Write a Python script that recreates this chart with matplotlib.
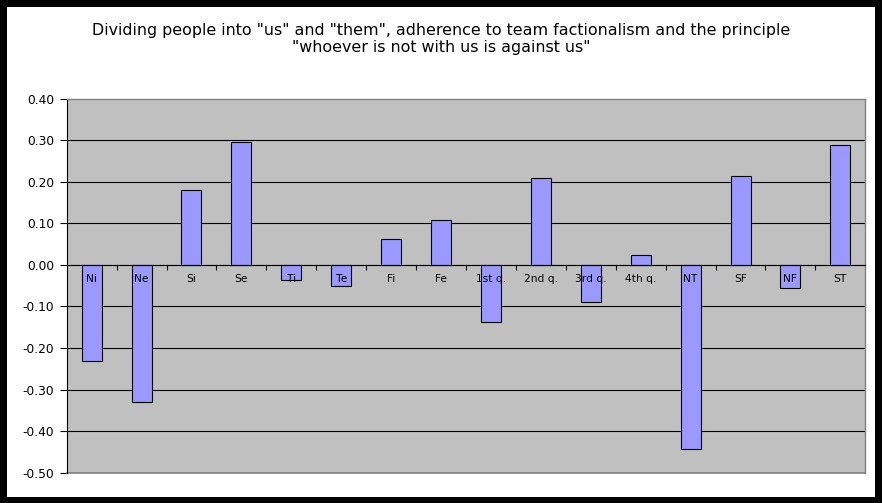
import numpy as np
import matplotlib
matplotlib.use("Agg")
import matplotlib.pyplot as plt
from matplotlib.patches import Rectangle
from matplotlib.ticker import FixedLocator, FormatStrFormatter

# ---------------------------
# Data
# ---------------------------
categories = ["Ni", "Ne", "Si", "Se", "Ti", "Te", "Fi", "Fe",
              "1st q.", "2nd q.", "3rd q.", "4th q.", "NT", "SF", "NF", "ST"]
values = [-0.23, -0.33, 0.18, 0.295, -0.036, -0.05, 0.062, 0.108,
          -0.137, 0.209, -0.09, 0.024, -0.443, 0.213, -0.056, 0.288]
y_ticks = [-0.5, -0.4, -0.3, -0.2, -0.1, 0.0, 0.1, 0.2, 0.3, 0.4]

title = ('Dividing people into "us" and "them", adherence to team factionalism and the principle\n'
         '"whoever is not with us is against us"')

# ---------------------------
# Figure with black frame
# ---------------------------
W, H = 882, 503
fig = plt.figure(figsize=(W / 100, H / 100), dpi=100, facecolor="black")
fig.patches.append(Rectangle((7 / W, 6 / H), (W - 14) / W, (H - 13) / H,
                             transform=fig.transFigure, facecolor="white",
                             edgecolor="none", zorder=-10))

ax = fig.add_axes([66.7 / W, 30.3 / H, (865.3 - 66.7) / W, (472.7 - 98.7) / H])
ax.set_facecolor("#C0C0C0")

x = np.arange(len(categories))
ax.bar(x, values, width=0.4, color="#9999FF", edgecolor="black", linewidth=0.8, zorder=3)

ax.set_xlim(-0.5, len(categories) - 0.5)
ax.set_ylim(y_ticks[0], y_ticks[-1])

# horizontal gridlines (black) except the frame edges
for yv in y_ticks[1:-1]:
    ax.axhline(yv, color="black", lw=0.8, zorder=1)

# y axis
ax.yaxis.set_major_locator(FixedLocator(y_ticks))
ax.yaxis.set_major_formatter(FormatStrFormatter("%.2f"))
ax.tick_params(axis="y", length=5, width=0.8, pad=4, labelsize=8.8)

# x axis sits on zero, ticks between categories
ax.spines["bottom"].set_position(("data", 0))
ax.spines["bottom"].set_color("black")
ax.spines["bottom"].set_linewidth(0.8)
ax.spines["bottom"].set_zorder(4)
ax.xaxis.set_major_locator(FixedLocator(x[1:] - 0.5))
ax.tick_params(axis="x", length=3.5, width=0.8, labelbottom=False)

ax.spines["left"].set_color("black")
ax.spines["left"].set_linewidth(0.8)
for side in ["top", "right"]:
    ax.spines[side].set_color("#808080")
    ax.spines[side].set_linewidth(1.0)
ax.axhline(y_ticks[0], color="#808080", lw=1.2, clip_on=False, zorder=2)

# category labels just under the zero line
for xi, name in zip(x, categories):
    ax.text(xi, -0.034, name, ha="center", va="center", fontsize=7.7,
            color="black", zorder=5)

fig.text(0.5, 1 - 38.8 / H, title, ha="center", va="center",
         fontsize=11.4, linespacing=1.15)

fig.savefig("out.png", dpi=100, facecolor="black")
